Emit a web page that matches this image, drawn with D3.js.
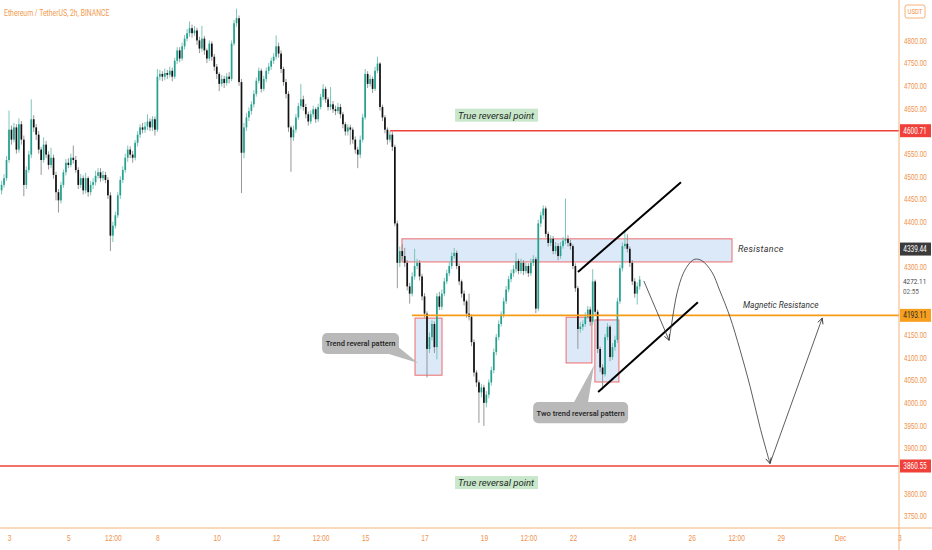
<!DOCTYPE html>
<html>
<head>
<meta charset="utf-8">
<script src="https://cdn.jsdelivr.net/npm/d3@7/dist/d3.min.js"></script>
<style>
  html, body { margin: 0; padding: 0; background: #fff; }
  svg { display: block; font-family: Roboto, "DejaVu Sans", sans-serif; }
</style>
</head>
<body>
<svg id="chart" width="932" height="550"></svg>
<script>
// ETH/USDT 2h candles
var firstCandle = "2021-11-02T18:00:00Z";
var firstOpen = 4469;

var closes = [
  4481,4496,4536,4603,4581,4608,4559,4615,4581,4481,
  4514,4548,4626,4608,4592,4559,4536,4570,4548,4525,
  4541,4503,4465,4447,4481,4509,4530,4525,4541,4536,
  4514,4481,4496,4469,4496,4465,4481,4487,4501,4509,
  4496,4503,4492,4458,4369,4391,4414,4458,4492,4514,
  4541,4559,4548,4541,4574,4592,4608,4603,4610,4621,
  4608,4626,4603,4720,4726,4720,4728,4724,4733,4720,
  4755,4778,4760,4787,4804,4816,4827,4816,4822,4800,
  4782,4804,4778,4760,4793,4764,4742,4726,4704,4715,
  4706,4720,4715,4793,4838,4849,4708,4552,4608,4630,
  4644,4659,4682,4711,4733,4693,4715,4733,4742,4755,
  4764,4787,4771,4737,4708,4682,4608,4586,4603,4630,
  4655,4670,4653,4637,4621,4637,4648,4626,4653,4675,
  4693,4670,4653,4659,4648,4644,4653,4637,4615,4599,
  4608,4603,4581,4559,4548,4581,4630,4726,4704,4715,
  4693,4733,4749,4653,4630,4603,4581,4592,4565,4396,
  4309,4335,4324,4309,4257,4241,4279,4302,4309,4279,
  4235,4197,4119,4145,4174,4123,4235,4212,4241,4268,
  4286,4302,4324,4331,4302,4268,4241,4224,4197,4190,
  4134,4067,4045,4023,4034,4000,4018,4045,4072,4112,
  4145,4174,4195,4224,4250,4273,4286,4295,4313,4291,
  4309,4291,4302,4286,4309,4317,4208,4396,4414,4429,
  4373,4353,4362,4335,4346,4324,4346,4358,4362,4353,
  4346,4302,4253,4163,4168,4174,4190,4206,4179,4268,
  4201,4119,4078,4063,4145,4168,4101,4123,4139,4224,
  4297,4346,4351,4340,4309,4268,4241,4257,4272.11
];

var highs = [
  4490,4505,4545,4645,4612,4618,4615,4628,4622,4590,
  4522,4556,4670,4635,4615,4600,4565,4586,4578,4555,
  4563,4548,4510,4472,4488,4515,4538,4540,4550,4568,
  4545,4520,4505,4502,4508,4500,4490,4496,4512,4518,
  4518,4512,4510,4498,4465,4400,4422,4465,4500,4522,
  4550,4568,4566,4556,4580,4600,4615,4618,4620,4637,
  4628,4633,4632,4737,4735,4732,4738,4735,4742,4740,
  4762,4785,4785,4795,4812,4825,4842,4835,4832,4828,
  4808,4832,4810,4782,4800,4798,4770,4748,4730,4724,
  4722,4728,4730,4800,4845,4870,4855,4715,4618,4640,
  4652,4666,4690,4718,4740,4738,4722,4740,4750,4762,
  4772,4811,4795,4778,4742,4715,4688,4612,4612,4638,
  4662,4704,4678,4660,4643,4645,4656,4652,4660,4682,
  4704,4698,4675,4697,4666,4656,4662,4660,4642,4620,
  4615,4614,4608,4588,4565,4590,4638,4737,4732,4724,
  4720,4742,4764,4752,4658,4635,4608,4600,4598,4570,
  4402,4345,4350,4342,4315,4265,4288,4340,4318,4315,
  4285,4242,4202,4155,4182,4180,4242,4245,4250,4276,
  4294,4310,4332,4342,4336,4308,4272,4248,4228,4241,
  4195,4140,4072,4050,4042,4040,4026,4052,4080,4120,
  4152,4182,4202,4232,4258,4280,4294,4304,4331,4318,
  4318,4315,4310,4308,4318,4326,4322,4404,4422,4436,
  4434,4378,4370,4368,4355,4352,4355,4366,4451,4370,
  4360,4350,4308,4258,4178,4182,4200,4214,4212,4295,
  4272,4206,4124,4085,4152,4176,4172,4132,4148,4232,
  4305,4354,4380,4372,4345,4315,4275,4266,4280
];

var lows = [
  4460,4475,4490,4530,4570,4575,4550,4552,4570,4456,
  4472,4508,4540,4598,4580,4550,4503,4530,4540,4515,
  4518,4495,4447,4420,4440,4475,4502,4518,4520,4528,
  4508,4472,4474,4460,4462,4455,4458,4472,4480,4495,
  4488,4490,4485,4450,4335,4355,4385,4408,4450,4485,
  4508,4532,4540,4530,4535,4566,4585,4595,4596,4602,
  4600,4600,4590,4598,4712,4710,4712,4715,4718,4710,
  4715,4748,4752,4755,4780,4798,4808,4806,4810,4790,
  4772,4775,4768,4750,4755,4755,4733,4715,4688,4698,
  4695,4700,4705,4710,4788,4830,4700,4463,4540,4600,
  4622,4636,4652,4676,4705,4685,4688,4708,4726,4735,
  4748,4758,4762,4728,4700,4672,4598,4510,4578,4596,
  4625,4648,4645,4628,4612,4615,4630,4618,4620,4648,
  4668,4662,4645,4646,4640,4635,4638,4628,4606,4590,
  4590,4570,4572,4550,4518,4540,4575,4625,4695,4698,
  4684,4688,4728,4645,4622,4595,4570,4575,4556,4390,
  4253,4300,4315,4300,4248,4219,4235,4272,4295,4270,
  4226,4188,4056,4110,4138,4110,4096,4205,4205,4235,
  4262,4280,4296,4318,4295,4260,4232,4215,4188,4182,
  4125,4058,4035,3956,4012,3949,3990,4010,4038,4065,
  4105,4138,4168,4188,4218,4244,4266,4278,4288,4284,
  4285,4282,4285,4278,4280,4302,4198,4202,4388,4405,
  4365,4345,4346,4328,4328,4315,4318,4340,4350,4345,
  4338,4295,4245,4119,4155,4160,4168,4185,4170,4172,
  4192,4110,4068,4029,4058,4138,4092,4095,4115,4132,
  4218,4290,4340,4332,4300,4260,4232,4217,4250
];

// axis ticks (days are "day of November", 31 = Dec 1)
var priceTicks = [3750,3800,3850,3900,3950,4000,4050,4100,4150,4200,4250,4300,
                  4350,4400,4450,4500,4550,4600,4650,4700,4750,4800,4850];
var timeTickDays = [3, 5, 6.5, 8, 10, 12, 13.5, 15, 17, 19, 20.5, 22, 24, 26, 27.5, 29, 31, 33];
var timeTickLabels = ["3","5","12:00","8","10","12","12:00","15","17","19","12:00","22","24","26","12:00","29","Dec","3"];

// drawings, in [day, price]
var levelPrices = [4600.71, 4193.11, 3860.55];
var levelFrom = [15.84, 16.58, 2.6];
var axisLabelPrices = [4600.71, 4339.44, 4193.11, 3860.55];
var lastPrice = "4272.11";
var countdown = "02:55";
var resistanceBox = [16.24, 27.36, 4311, 4362];
var patternBoxes = [[16.68, 17.59, 4061, 4187], [21.77, 22.64, 4088, 4189], [22.74, 23.55, 4046, 4183]];
var channelUpper = [[22.17, 4289], [25.64, 4487]];
var channelLower = [[22.85, 4024], [26.21, 4222]];
var arrowDrop = [[24.39, 4269], [25.24, 4138]];
var arrowSwing = [[25.24,4138],[25.33,4176],[25.51,4243],[25.72,4286],[25.94,4309],[26.11,4317],
                  [26.34,4314],[26.68,4289],[26.94,4249],[27.29,4190],[27.63,4117],[27.97,4036],
                  [28.30,3947],[28.64,3866]];
var arrowRise = [[28.64, 3866], [30.40, 4187]];
var calloutTexts = ["Trend reveral pattern", "Two trend reversal pattern"];
var calloutBoxes = [[13.55, 16.14, 4108, 4154], [20.66, 23.86, 3955, 4002]];
var calloutTails = [[[15.80, 4108], [16.14, 4122], [16.78, 4088]],
                    [[22.04, 4002], [22.51, 4002], [22.71, 4083]]];
var reversalLabelAt = [[19.41, 4635], [19.41, 3824]];
var resistanceLabelAt = [27.56, 4341];
var magneticLabelAt = [27.73, 4216];

var W = 932, H = 550;
var axisX = 899, axisY = 528;
var orange = "#f0924a";
var upColor = "#26a190", downColor = "#111111";

var svg = d3.select("#chart");

function nov(d) {
    return new Date(Date.UTC(2021, 10, 1) + (d - 1) * 864e5);
}

// squeeze a text horizontally around its own x, like the chart's narrow font
function condense(sel, factor) {
    sel.each(function() {
        var x0 = +(this.getAttribute("x") || 0);
        d3.select(this).attr("transform",
            "translate(" + x0 + ",0) scale(" + factor + ",1) translate(" + (-x0) + ",0)");
    });
}

var x = d3.scaleUtc().domain([nov(3), nov(33)]).range([9, 899.4]);
var y = d3.scaleLinear().domain([3860.55, 4600.71]).range([466, 130.7]);

function px(p) { return x(nov(p[0])); }
function py(p) { return y(p[1]); }

var t0 = new Date(firstCandle).getTime();
var candles = closes.map(function(c, i) {
    return {
        t: new Date(t0 + i * 2 * 3600e3),
        o: i ? closes[i - 1] : firstOpen,
        c: c,
        h: highs[i],
        l: lows[i]
    };
});

var defs = svg.append("defs");
defs.append("marker")
    .attr("id", "arrow")
    .attr("viewBox", "0 0 10 10")
    .attr("refX", 9).attr("refY", 5)
    .attr("markerWidth", 7).attr("markerHeight", 7)
    .attr("markerUnits", "userSpaceOnUse")
    .attr("orient", "auto")
  .append("path")
    .attr("d", "M1,1 L9,5 L1,9")
    .attr("fill", "none")
    .attr("stroke", "#333")
    .attr("stroke-width", 1.2);

// boxes behind the candles
svg.append("rect")
    .attr("x", x(nov(resistanceBox[0])))
    .attr("y", y(resistanceBox[3]))
    .attr("width", x(nov(resistanceBox[1])) - x(nov(resistanceBox[0])))
    .attr("height", y(resistanceBox[2]) - y(resistanceBox[3]))
    .attr("fill", "#dce9f8")
    .attr("stroke", "#ef6b6b")
    .attr("stroke-width", 1);

svg.selectAll(".pbox").data(patternBoxes).enter().append("rect")
    .attr("class", "pbox")
    .attr("x", function(d) { return x(nov(d[0])); })
    .attr("y", function(d) { return y(d[3]); })
    .attr("width", function(d) { return x(nov(d[1])) - x(nov(d[0])); })
    .attr("height", function(d) { return y(d[2]) - y(d[3]); })
    .attr("fill", "#dce9f8")
    .attr("stroke", "#ef6b6b")
    .attr("stroke-width", 1);

// candles
var bodyW = 1.7;
var cg = svg.append("g");
cg.selectAll(".wick").data(candles).enter().append("line")
    .attr("x1", function(d) { return x(d.t); })
    .attr("x2", function(d) { return x(d.t); })
    .attr("y1", function(d) { return y(d.h); })
    .attr("y2", function(d) { return y(d.l); })
    .attr("stroke", function(d) { return d.c >= d.o ? "#6fc0b2" : "#8c8c8c"; })
    .attr("stroke-width", 0.9);

cg.selectAll(".body").data(candles).enter().append("rect")
    .attr("x", function(d) { return x(d.t) - bodyW / 2; })
    .attr("y", function(d) { return y(Math.max(d.o, d.c)); })
    .attr("width", bodyW)
    .attr("height", function(d) { return Math.max(0.8, Math.abs(y(d.o) - y(d.c))); })
    .attr("fill", function(d) { return d.c >= d.o ? upColor : downColor; });

// horizontal levels
var levelColors = ["#f0403a", "#f59b16", "#f0403a"];
levelPrices.forEach(function(p, i) {
    svg.append("line")
        .attr("x1", x(nov(levelFrom[i]))).attr("x2", axisX)
        .attr("y1", y(p)).attr("y2", y(p))
        .attr("stroke", levelColors[i])
        .attr("stroke-width", 1.6);
});

// channel lines
var line = d3.line().x(px).y(py);
[channelUpper, channelLower].forEach(function(seg) {
    svg.append("path")
        .attr("d", line(seg))
        .attr("fill", "none")
        .attr("stroke", "#000")
        .attr("stroke-width", 2);
});

// projected path
svg.append("path")
    .attr("d", line(arrowDrop))
    .attr("fill", "none").attr("stroke", "#333").attr("stroke-width", 0.8)
    .attr("marker-end", "url(#arrow)");
svg.append("path")
    .attr("d", d3.line().x(px).y(py).curve(d3.curveCatmullRom)(arrowSwing))
    .attr("fill", "none").attr("stroke", "#333").attr("stroke-width", 0.8)
    .attr("marker-end", "url(#arrow)");
svg.append("path")
    .attr("d", line(arrowRise))
    .attr("fill", "none").attr("stroke", "#333").attr("stroke-width", 0.8)
    .attr("marker-end", "url(#arrow)");

// callouts
calloutBoxes.forEach(function(b, i) {
    var g = svg.append("g");
    g.append("path")
        .attr("d", d3.line().x(px).y(py)(calloutTails[i]) + "Z")
        .attr("fill", "#b9b9b9");
    g.append("rect")
        .attr("x", x(nov(b[0]))).attr("y", y(b[3]))
        .attr("width", x(nov(b[1])) - x(nov(b[0])))
        .attr("height", y(b[2]) - y(b[3]))
        .attr("rx", 5)
        .attr("fill", "#b9b9b9");
    g.append("text")
        .attr("x", (x(nov(b[0])) + x(nov(b[1]))) / 2)
        .attr("y", (y(b[2]) + y(b[3])) / 2 + 3)
        .attr("text-anchor", "middle")
        .style("font-size", "7.5px")
        .style("font-weight", "500")
        .attr("fill", "#1e1e1e")
        .text(calloutTexts[i]);
});

// "True reversal point" labels
reversalLabelAt.forEach(function(p) {
    var g = svg.append("g");
    var bg = g.append("rect").attr("fill", "#c9e7cb");
    var t = g.append("text")
        .attr("x", px(p)).attr("y", py(p) + 3.5)
        .attr("text-anchor", "middle")
        .style("font-size", "9.5px")
        .style("font-style", "italic")
        .attr("fill", "#1d2a1d")
        .text("True reversal point");
    var bb = t.node().getBBox();
    bg.attr("x", bb.x - 3).attr("y", py(p) - 6.5)
        .attr("width", bb.width + 6).attr("height", 13);
});

svg.append("text")
    .attr("x", px(resistanceLabelAt)).attr("y", py(resistanceLabelAt) + 3.5)
    .style("font-size", "9px").style("font-style", "italic")
    .style("letter-spacing", "0.3px")
    .attr("fill", "#333")
    .text("Resistance");

svg.append("text")
    .attr("x", px(magneticLabelAt)).attr("y", py(magneticLabelAt) + 3.5)
    .style("font-size", "9px").style("font-style", "italic")
    .attr("fill", "#333")
    .text("Magnetic Resistance")
    .call(condense, 0.93);

// axes; tick labels hidden under a price label or the currency badge are dropped
var lastY = y(+lastPrice);
var visibleTicks = priceTicks.filter(function(t) {
    var ty = y(t);
    if (ty < 22) return false;
    if (ty > lastY - 8 && ty < lastY + 18) return false;
    return axisLabelPrices.every(function(p) { return Math.abs(ty - y(p)) > 8; });
});
var yAxis = d3.axisRight(y)
    .tickValues(visibleTicks)
    .tickFormat(d3.format(".2f"))
    .tickSize(0)
    .tickPadding(5);
var gy = svg.append("g").attr("transform", "translate(" + axisX + ",0)").call(yAxis);
gy.select(".domain").remove();
gy.selectAll("text").attr("fill", orange).style("font-size", "8.5px").call(condense, 0.74);

var xAxis = d3.axisBottom(x)
    .tickValues(timeTickDays.map(nov))
    .tickFormat(function(d, i) { return timeTickLabels[i]; })
    .tickSize(0)
    .tickPadding(7);
var gx = svg.append("g").attr("transform", "translate(0," + axisY + ")").call(xAxis);
gx.select(".domain").remove();
gx.selectAll("text").attr("fill", orange).style("font-size", "8.5px").call(condense, 0.78);

svg.append("line")
    .attr("x1", axisX).attr("x2", axisX).attr("y1", 0).attr("y2", H)
    .attr("stroke", "#f5b27a").attr("stroke-width", 1);
svg.append("line")
    .attr("x1", 0).attr("x2", W).attr("y1", axisY).attr("y2", axisY)
    .attr("stroke", "#f5b27a").attr("stroke-width", 1);

// price labels on the axis
var labelFill = ["#f0403a", "#3b3b3b", "#f7a020", "#f0403a"];
var labelText = ["#fff", "#fff", "#222", "#fff"];
axisLabelPrices.forEach(function(p, i) {
    svg.append("rect")
        .attr("x", axisX + 1).attr("y", y(p) - 6.5)
        .attr("width", 31).attr("height", 13)
        .attr("fill", labelFill[i]);
    svg.append("text")
        .attr("x", axisX + 16).attr("y", y(p) + 3)
        .attr("text-anchor", "middle")
        .style("font-size", "8.5px")
        .attr("fill", labelText[i])
        .text(d3.format(".2f")(p))
        .call(condense, 0.76);
});

svg.append("text")
    .attr("x", axisX + 4).attr("y", lastY + 4)
    .style("font-size", "8px").attr("fill", "#444")
    .text(lastPrice)
    .call(condense, 0.8);
svg.append("text")
    .attr("x", axisX + 4).attr("y", lastY + 14)
    .style("font-size", "7.5px").attr("fill", "#666")
    .text(countdown)
    .call(condense, 0.85);

// currency badge
svg.append("rect")
    .attr("x", 905).attr("y", 5).attr("width", 20).attr("height", 13)
    .attr("rx", 2)
    .attr("fill", "#fff").attr("stroke", "#f5b27a");
svg.append("text")
    .attr("x", 915).attr("y", 14.5)
    .attr("text-anchor", "middle")
    .style("font-size", "7.5px").attr("fill", orange)
    .text("USDT")
    .call(condense, 0.8);

// title
svg.append("text")
    .attr("x", 4).attr("y", 16)
    .style("font-size", "9.5px")
    .attr("fill", "#f39a4d")
    .text("Ethereum / TetherUS, 2h, BINANCE")
    .call(condense, 0.72);
</script>
</body>
</html>
